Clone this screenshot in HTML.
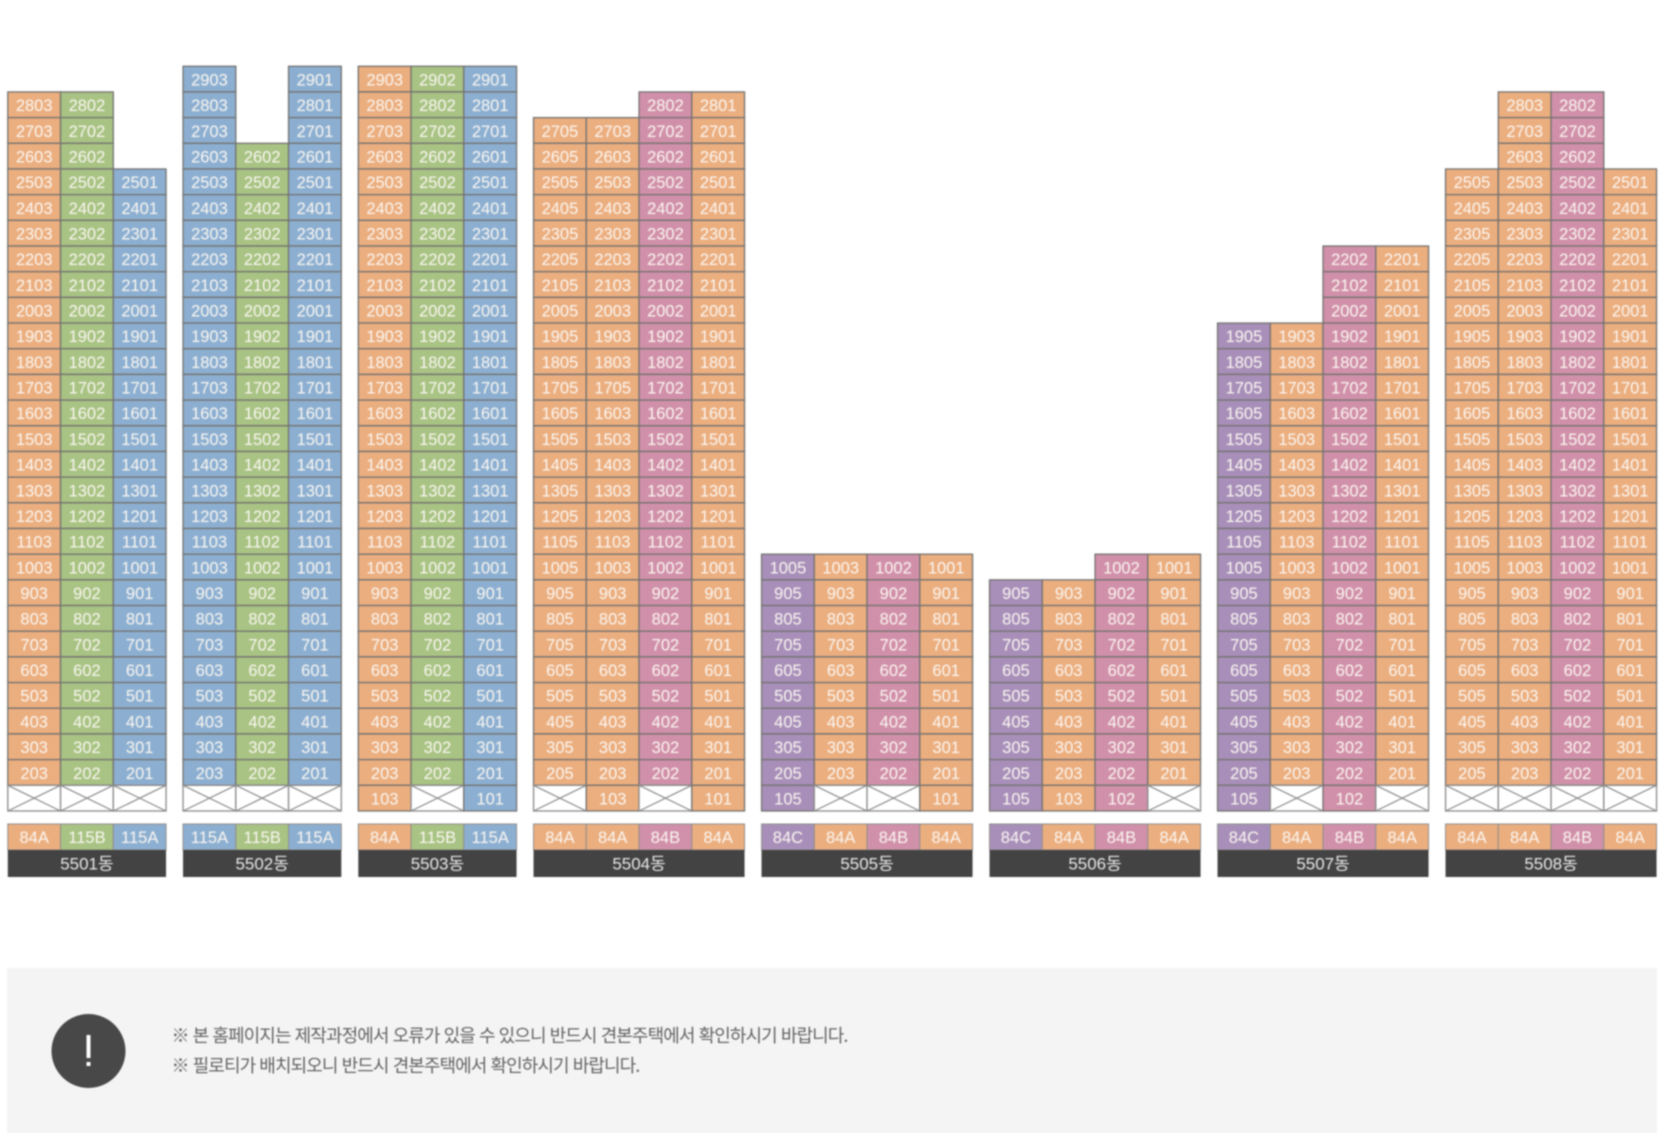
<!DOCTYPE html>
<html lang="ko">
<head>
<meta charset="utf-8">
<title>동호수 배치도</title>
<style>
html,body{margin:0;padding:0;background:#fff;width:1668px;height:1140px;overflow:hidden}
#chart{position:absolute;left:0;top:0;filter:blur(0.7px)}
text{font-family:"Liberation Sans","Noto Sans CJK KR",sans-serif}
.unit{font-size:16.5px;fill:#fbf7f2;text-anchor:middle}
.dong{font-size:17px;fill:#e8e8e8;text-anchor:middle}
.note{font-family:"Noto Sans CJK KR","Liberation Sans",sans-serif;font-size:18px;fill:#626262;letter-spacing:-0.93px}
</style>
</head>
<body>
<svg id="chart" width="1668" height="1140" viewBox="0 0 1668 1140" xmlns="http://www.w3.org/2000/svg">
  <rect x="7" y="968" width="1650" height="165" fill="#f4f4f4"/>
  <circle cx="88.5" cy="1051" r="37" fill="#484848"/>
  <rect x="86.5" y="1035" width="4" height="23" fill="#fff"/>
  <rect x="86.5" y="1062" width="4" height="4" fill="#fff"/>
  <text class="note" x="171.5" y="1042">※ 본 홈페이지는 제작과정에서 오류가 있을 수 있으니 반드시 견본주택에서 확인하시기 바랍니다.</text>
  <text class="note" x="171.5" y="1072">※ 필로티가 배치되오니 반드시 견본주택에서 확인하시기 바랍니다.</text>
  <g id="plot"></g>
</svg>
<script>
const buildingNames = ['5501동','5502동','5503동','5504동','5505동','5506동','5507동','5508동'];
const unitLines = [
  ['03','02','01'],
  ['03','02','01'],
  ['03','02','01'],
  ['05','03','02','01'],
  ['05','03','02','01'],
  ['05','03','02','01'],
  ['05','03','02','01'],
  ['05','03','02','01']
];
const unitTypes = [
  ['84A','115B','115A'],
  ['115A','115B','115A'],
  ['84A','115B','115A'],
  ['84A','84A','84B','84A'],
  ['84C','84A','84B','84A'],
  ['84C','84A','84B','84A'],
  ['84C','84A','84B','84A'],
  ['84A','84A','84B','84A']
];
const topFloors = [
  [28,28,25],
  [29,26,29],
  [29,29,29],
  [27,27,28,28],
  [10,10,10,10],
  [9,9,10,10],
  [19,19,22,22],
  [25,28,28,25]
];
const firstFloorUnits = [
  [false,false,false],
  [false,false,false],
  [true,false,true],
  [false,true,false,true],
  [true,false,false,true],
  [true,true,true,false],
  [true,false,true,false],
  [false,false,false,false]
];
const labelOverrides = {'5504동|1|17':'1705'};
const typeFills = {'84A':'#ebae7f','84B':'#d190a9','84C':'#a88fb9','115A':'#8cafd1','115B':'#a8c383'};

const NS = 'http://www.w3.org/2000/svg';
const plot = document.getElementById('plot');
const MARGIN_LEFT = 7.8, COL_W = 52.75, BUILDING_GAP = 17;
const FLOOR1_TOP = 785.3, ROW_H = 25.68;
const TYPE_TOP = 824, TYPE_H = 26, DONG_H = 27;
const LINE = '#737270';

function floorY(floor){ return FLOOR1_TOP - (floor - 1) * ROW_H; }
function columnsBefore(b){ let n = 0; for (let i = 0; i < b; i++) n += unitLines[i].length; return n; }
function columnX(b, c){ return MARGIN_LEFT + (columnsBefore(b) + c) * COL_W + b * BUILDING_GAP; }
function make(tag, attrs, parent){
  const el = document.createElementNS(NS, tag);
  for (const k in attrs) el.setAttribute(k, attrs[k]);
  parent.appendChild(el);
  return el;
}
function drawLabel(str, x, y, cls, parent, name){
  const t = make('text', {x: x, y: y, class: cls}, parent);
  t.textContent = str;
  
  
  return t;
}

buildingNames.forEach(function(name, b){
  const g = make('g', {}, plot);
  
  
  unitLines[b].forEach(function(line, c){
    const x = columnX(b, c);
    const type = unitTypes[b][c];
    for (let f = topFloors[b][c]; f >= 2; f--) {
      const y = floorY(f);
      const r = make('rect', {x: x, y: y, width: COL_W, height: ROW_H, fill: typeFills[type], stroke: LINE, 'stroke-width': 1.3}, g);
      
      
      const key = name + '|' + c + '|' + f;
      const label = labelOverrides[key] || (f + line);
      drawLabel(label, x + COL_W / 2, y + ROW_H / 2 + 6.3, 'unit', g, 'unit-number');
    }
    const y1 = floorY(1);
    if (firstFloorUnits[b][c]) {
      const r = make('rect', {x: x, y: y1, width: COL_W, height: ROW_H, fill: typeFills[type], stroke: LINE, 'stroke-width': 1.3}, g);
      
      
      drawLabel('1' + line, x + COL_W / 2, y1 + ROW_H / 2 + 6.3, 'unit', g, 'unit-number');
    } else {
      const r = make('rect', {x: x, y: y1, width: COL_W, height: ROW_H, fill: '#fff', stroke: '#8a8a8a', 'stroke-width': 1.3}, g);
      
      
      make('path', {d: 'M' + x + ' ' + y1 + 'L' + (x + COL_W) + ' ' + (y1 + ROW_H) + 'M' + (x + COL_W) + ' ' + y1 + 'L' + x + ' ' + (y1 + ROW_H), stroke: '#8a8a8a', 'stroke-width': 1.2, fill: 'none'}, g);
    }
    const tr = make('rect', {x: x, y: TYPE_TOP, width: COL_W, height: TYPE_H, fill: typeFills[type], stroke: '#8f8d8a', 'stroke-width': 1}, g);
    
    
    drawLabel(type, x + COL_W / 2, TYPE_TOP + TYPE_H / 2 + 6, 'unit', g, 'type-label');
  });
  const left = columnX(b, 0);
  const w = unitLines[b].length * COL_W;
  const bar = make('rect', {x: left, y: TYPE_TOP + TYPE_H, width: w, height: DONG_H, fill: '#434343'}, g);
  
  
  drawLabel(name, left + w / 2, TYPE_TOP + TYPE_H + DONG_H / 2 + 6, 'dong', g, 'building-label');
});
</script>
</body>
</html>
